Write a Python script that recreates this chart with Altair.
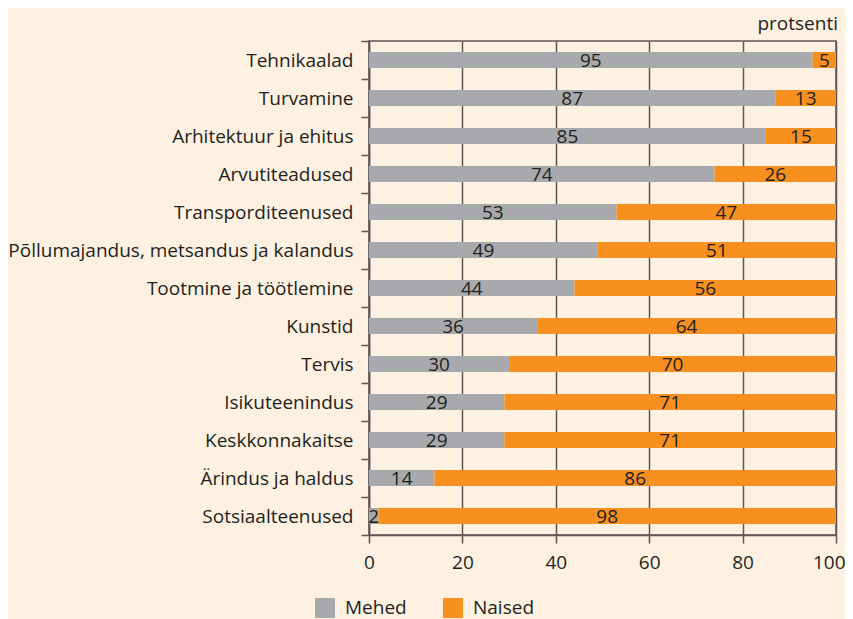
import altair as alt
import pandas as pd

categories = ["Tehnikaalad", "Turvamine", "Arhitektuur ja ehitus", "Arvutiteadused",
              "Transporditeenused", "Põllumajandus, metsandus ja kalandus",
              "Tootmine ja töötlemine", "Kunstid", "Tervis", "Isikuteenindus",
              "Keskkonnakaitse", "Ärindus ja haldus", "Sotsiaalteenused"]
mehed = [95, 87, 85, 74, 53, 49, 44, 36, 30, 29, 29, 14, 2]
naised = [5, 13, 15, 26, 47, 51, 56, 64, 70, 71, 71, 86, 98]
series = ["Mehed", "Naised"]
colors = ["#A7A9AC", "#F7901E"]
x_ticks = [0, 20, 40, 60, 80, 100]

rows = []
for c, m, n in zip(categories, mehed, naised):
    rows.append({"category": c, "sugu": "Mehed", "value": m, "ord": 0})
    rows.append({"category": c, "sugu": "Naised", "value": n, "ord": 1})
df = pd.DataFrame(rows)

FONT = "Open Sans"
TXT = "#231F20"
LINE = "#5E5655"
FS = 19

yenc = alt.Y("category:N", sort=categories, title=None,
             scale=alt.Scale(paddingInner=0, paddingOuter=0),
             axis=alt.Axis(tickBand="extent", tickSize=8, tickColor=LINE, tickWidth=1.5,
                           domainColor=LINE, domainWidth=1.5, labelPadding=8, labelLimit=500,
                           labelFontSize=FS, labelFont=FONT, labelColor=TXT, grid=False))

base = alt.Chart(df)
bars = base.mark_bar(height=alt.RelativeBandSize(0.42)).encode(
    x=alt.X("value:Q", stack="zero", title=None,
            scale=alt.Scale(domain=[0, 100], nice=False),
            axis=alt.Axis(values=x_ticks, grid=True, gridColor=LINE, gridWidth=1.5,
                          tickSize=8, tickColor=LINE, tickWidth=1.5, labelFlush=False,
                          labelAlign={"condition": {"test": "datum.value == 100", "value": "right"},
                                      "value": "center"},
                          labelOffset={"condition": {"test": "datum.value == 100", "value": 9},
                                       "value": 0},
                          domainColor=LINE, domainWidth=1.5, labelPadding=10,
                          labelFontSize=FS, labelFont=FONT, labelColor=TXT)),
    y=yenc,
    color=alt.Color("sugu:N", title=None,
                    scale=alt.Scale(domain=series, range=colors),
                    legend=alt.Legend(orient="none", direction="horizontal",
                                      legendX=-54, legendY=557,
                                      symbolType="square", symbolSize=400,
                                      symbolStrokeWidth=0, symbolOpacity=1,
                                      labelFontSize=FS, labelFont=FONT, labelColor=TXT,
                                      labelOffset=10, columnPadding=36)),
    order=alt.Order("ord:Q"),
)

text = base.transform_stack(
    stack="value", groupby=["category"], as_=["x0", "x1"],
    sort=[alt.SortField("ord")]
).transform_calculate(
    mid="(datum.x0 + datum.x1) / 2"
).mark_text(fontSize=FS, font=FONT, color=TXT, baseline="middle", dy=1).encode(
    x=alt.X("mid:Q"),
    y=alt.Y("category:N", sort=categories),
    text=alt.Text("value:Q"),
)

chart = alt.layer(bars, text).properties(
    width=467, height=494,
    title=alt.TitleParams("protsenti", anchor="end", frame="group", fontSize=FS, font=FONT,
                          fontWeight="normal", color=TXT, offset=6, dx=2, dy=8),
    background="#FEF1E2",
    padding={"left": 361, "top": 33, "right": 9, "bottom": 84},
    autosize=alt.AutoSizeParams(type="none"),
).configure_view(stroke=LINE, strokeWidth=1.5)

chart.save("out.html", embed_options={"renderer": "svg", "actions": False})
